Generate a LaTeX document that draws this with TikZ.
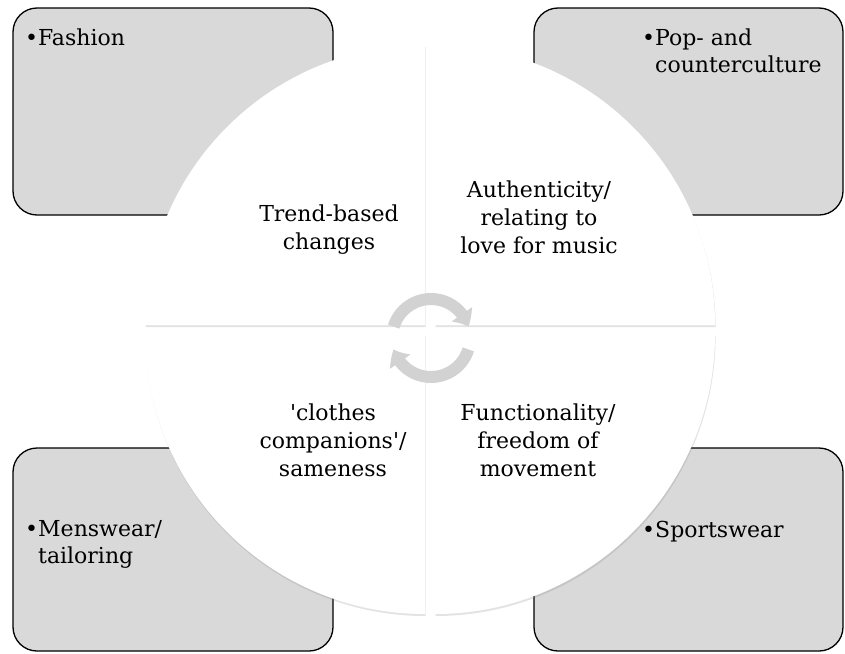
\documentclass[tikz,border=0pt]{standalone}
\usepackage{fontspec}
\setmainfont{DejaVu Serif}
\usetikzlibrary{shadows,arrows.meta,bending}
\definecolor{boxgrey}{RGB}{217,217,217}
\definecolor{arrowgrey}{RGB}{210,210,210}
\tikzset{
  corner box/.style={draw=black, line width=1.3pt, fill=boxgrey, rounded corners=24pt},
  quarter/.style={fill=white, drop shadow={shadow xshift=0.6pt, shadow yshift=-2pt, opacity=0.22}},
  inner text/.style={font=\fontsize{22}{28}\selectfont, align=center, inner sep=0pt},
  bullet text/.style={font=\fontsize{22}{27}\selectfont, align=left, inner sep=0pt, anchor=base west},
  turn arrow/.style={draw=arrowgrey, line width=12pt, -{Triangle[length=14pt, width=24pt, bend]}}
}
\begin{document}
\begin{tikzpicture}[x=1pt, y=-1pt]
            \useasboundingbox (0, 0) rectangle (845, 653);

            % 四个角上的灰色框
            \draw[corner box] (13, 8) rectangle (333, 215);
            \draw[corner box] (534, 8) rectangle (843, 215);
            \draw[corner box] (13, 448) rectangle (333, 651);
            \draw[corner box] (534, 448) rectangle (843, 651);

            % 圆的四个扇形
            \coordinate (TL) at (425, 325);
            \coordinate (TR) at (435, 325);
            \coordinate (BR) at (435, 334);
            \coordinate (BL) at (425, 334);

            \fill[quarter] (TL) -- ++(180:280) arc (180:270:280) -- cycle;
            \fill[quarter] (TR) -- ++(270:280) arc (270:360:280) -- cycle;
            \fill[quarter] (BR) -- ++(0:280) arc (0:90:280) -- cycle;
            \fill[quarter] (BL) -- ++(90:280) arc (90:180:280) -- cycle;

            % 中间的两个循环箭头
            \coordinate (M) at (431, 338);
            \draw[turn arrow] (M) ++(197:39) arc (197:343:39);
            \draw[turn arrow] (M) ++(17:39) arc (17:163:39);

            % 扇形里的文字
            \node[inner text] (trend) at (329, 230) {Trend-based\\changes};
            \node[inner text] (authentic) at (539, 217) {Authenticity/\\relating to\\love for music};
            \node[inner text] (clothes) at (333, 440) {\textquotesingle clothes\\companions\textquotesingle/\\sameness};
            \node[inner text] (function) at (538, 440) {Functionality/\\freedom of\\movement};

            % 框里的文字 (多行时 base 在最后一行)
            \node[bullet text] (fashion) at (38, 45) {\llap{•}Fashion};
            \node[bullet text] (pop) at (655, 72) {\llap{•}Pop- and\\counterculture};
            \node[bullet text] (menswear) at (38, 563) {\llap{•}Menswear/\\tailoring};
            \node[bullet text] (sports) at (655, 537) {\llap{•}Sportswear};
        \end{tikzpicture}
\end{document}
